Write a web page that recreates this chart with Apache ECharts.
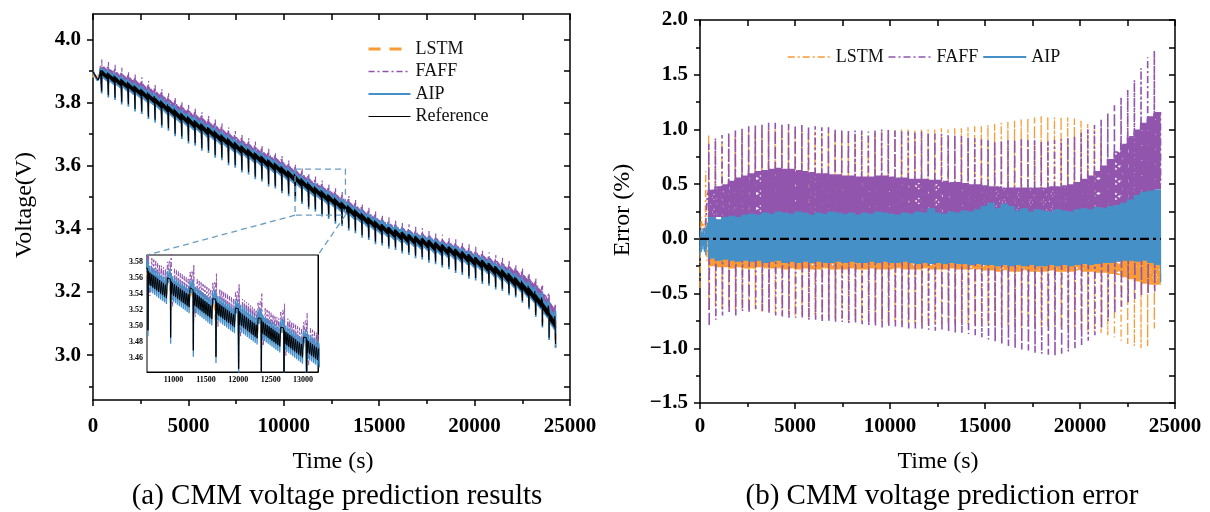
<!DOCTYPE html>
<html><head><meta charset="utf-8">
<script src="https://cdn.jsdelivr.net/npm/echarts@6/dist/echarts.min.js"></script>
<style>html,body{margin:0;padding:0;background:#fff}#c{width:1210px;height:512px}</style>
</head><body><div id="c"></div>
<script>
// ================= DATA =================
// Axis ranges and tick labels
const timeRange = [0, 25000];
const voltRange = [2.858, 4.08];
const errRange = [-1.5, 2.0];
const voltTicks = [3.0, 3.2, 3.4, 3.6, 3.8, 4.0];
const voltMinorTicks = [2.9, 3.1, 3.3, 3.5, 3.7, 3.9];
const voltAllTicks = [2.9, 3.0, 3.1, 3.2, 3.3, 3.4, 3.5, 3.6, 3.7, 3.8, 3.9, 4.0];
const insetTimeRange = [10590, 13230];
const insetVoltRange = [3.443, 3.589];
const insetTimeTicks = [11000, 11500, 12000, 12500, 13000];
const insetVoltTicks = [3.46, 3.48, 3.50, 3.52, 3.54, 3.56, 3.58];

// Start-up segment before the first current pulse (s, V, %)
const initT    = [0, 30, 70, 110, 150, 190, 230, 270, 300, 320, 350, 390, 420];
const initRef  = [3.896, 3.894, 3.890, 3.886, 3.882, 3.878, 3.874, 3.871, 3.870, 3.872, 3.885, 3.902, 3.905];
const initLstm = [-0.45, 0.05, 0.20, 0.12, 0.15, 0.08, 0.10, 0.05, 0.62, 0.10, -0.20, 0.05, 0.00];
const initFaff = [0.00, 0.02, 0.04, 0.05, 0.06, 0.08, 0.10, 0.12, 0.14, 0.20, 0.30, 0.40, 0.42];
const initAip  = [-0.15, 0.08, -0.12, 0.10, -0.10, 0.08, -0.12, 0.10, -0.15, 0.12, -0.10, 0.15, 0.00];

// Start time of each discharge pulse (s)
const pulseT = [450,800,1150,1500,1850,2200,2550,2900,3250,3600,
  3950,4300,4650,5000,5350,5700,6050,6400,6750,7100,
  7450,7800,8150,8500,8850,9200,9550,9900,10250,10600,
  10950,11300,11650,12000,12350,12700,13050,13400,13750,14100,
  14450,14800,15150,15500,15850,16200,16550,16900,17250,17600,
  17950,18300,18650,19000,19350,19700,20050,20400,20750,21100,
  21450,21800,22150,22500,22850,23200,23550,23900];

// Reference voltage: resting level before each pulse, depth of the pulse dip, ripple depth (V)
const refTop = [3.905,3.895,3.885,3.875,3.865,3.854,3.843,3.831,3.818,3.805,
  3.792,3.779,3.767,3.756,3.745,3.734,3.723,3.711,3.699,3.687,
  3.676,3.665,3.654,3.643,3.632,3.621,3.610,3.598,3.585,3.572,
  3.559,3.546,3.534,3.522,3.510,3.498,3.486,3.474,3.462,3.450,
  3.438,3.427,3.417,3.409,3.401,3.394,3.387,3.381,3.375,3.369,
  3.362,3.355,3.348,3.340,3.332,3.323,3.314,3.305,3.295,3.285,
  3.274,3.262,3.249,3.234,3.217,3.197,3.172,3.140];
const refDip = [0.070,0.072,0.070,0.074,0.071,0.075,0.072,0.076,0.073,0.077,
  0.074,0.078,0.075,0.078,0.074,0.079,0.075,0.078,0.074,0.078,
  0.075,0.079,0.074,0.078,0.075,0.079,0.075,0.078,0.074,0.077,
  0.073,0.076,0.072,0.075,0.071,0.074,0.070,0.072,0.068,0.070,
  0.066,0.068,0.062,0.064,0.060,0.064,0.062,0.066,0.064,0.068,
  0.066,0.070,0.068,0.072,0.070,0.073,0.070,0.072,0.068,0.070,
  0.064,0.066,0.060,0.062,0.065,0.070,0.078,0.085];
const refRipple = [0.018,0.018,0.019,0.018,0.019,0.019,0.020,0.019,0.020,0.020,
  0.020,0.021,0.020,0.021,0.020,0.021,0.020,0.021,0.020,0.021,
  0.021,0.020,0.021,0.020,0.021,0.021,0.020,0.021,0.020,0.021,
  0.020,0.021,0.020,0.021,0.020,0.021,0.020,0.021,0.020,0.021,
  0.020,0.021,0.020,0.021,0.021,0.022,0.021,0.022,0.021,0.022,
  0.022,0.022,0.021,0.022,0.022,0.023,0.022,0.023,0.023,0.024,
  0.024,0.025,0.025,0.026,0.026,0.027,0.028,0.030];

// FAFF error (%): spike max, spike min, dense band upper / lower edge, per pulse
const faffHi = [0.87,0.92,0.95,0.97,0.99,1.01,1.03,1.04,1.05,1.06,
  1.06,1.05,1.05,1.04,1.04,1.03,1.03,1.02,1.02,1.01,
  1.00,1.00,0.99,0.99,0.98,0.99,1.00,1.00,0.99,0.99,
  0.98,0.97,0.98,0.97,0.96,0.96,0.95,0.95,0.94,0.93,
  0.92,0.91,0.90,0.89,0.90,0.90,0.91,0.91,0.90,0.90,
  0.89,0.89,0.90,0.91,0.92,0.94,0.97,1.00,1.04,1.09,
  1.15,1.22,1.29,1.36,1.45,1.56,1.66,1.72];
const faffLo = [-0.80,-0.74,-0.70,-0.68,-0.70,-0.66,-0.68,-0.64,-0.66,-0.68,
  -0.70,-0.71,-0.72,-0.72,-0.73,-0.74,-0.74,-0.75,-0.75,-0.76,
  -0.76,-0.77,-0.77,-0.78,-0.79,-0.80,-0.81,-0.80,-0.80,-0.81,
  -0.82,-0.82,-0.83,-0.83,-0.84,-0.84,-0.85,-0.86,-0.86,-0.87,
  -0.88,-0.90,-0.92,-0.94,-0.96,-0.98,-1.00,-1.01,-1.02,-1.04,
  -1.05,-1.06,-1.07,-1.05,-1.03,-1.00,-0.97,-0.93,-0.88,-0.82,
  -0.75,-0.68,-0.62,-0.58,-0.55,-0.52,-0.50,-0.48];
const faffBandHi = [0.45,0.48,0.50,0.53,0.56,0.58,0.60,0.62,0.63,0.64,
  0.65,0.64,0.64,0.63,0.62,0.61,0.60,0.60,0.59,0.59,
  0.58,0.58,0.57,0.57,0.57,0.58,0.58,0.57,0.56,0.56,
  0.55,0.55,0.55,0.54,0.54,0.53,0.52,0.52,0.51,0.50,
  0.50,0.49,0.48,0.48,0.47,0.47,0.47,0.47,0.47,0.47,
  0.47,0.48,0.48,0.49,0.50,0.52,0.55,0.58,0.62,0.67,
  0.73,0.80,0.87,0.94,1.00,1.06,1.12,1.16];
const faffBandLo = [0.18,0.20,0.20,0.21,0.20,0.21,0.20,0.21,0.20,0.21,
  0.20,0.21,0.20,0.21,0.20,0.21,0.20,0.21,0.20,0.21,
  0.20,0.21,0.20,0.21,0.20,0.21,0.20,0.21,0.20,0.21,
  0.20,0.21,0.20,0.21,0.20,0.21,0.20,0.21,0.20,0.21,
  0.20,0.21,0.20,0.21,0.20,0.21,0.20,0.21,0.20,0.21,
  0.20,0.21,0.20,0.21,0.20,0.21,0.20,0.21,0.21,0.22,
  0.22,0.25,0.28,0.30,0.35,0.40,0.42,0.45];

// LSTM error (%)
const lstmHi = [0.95,0.88,0.90,0.92,0.94,0.96,0.98,0.99,1.00,1.01,
  1.01,1.00,1.00,0.99,0.99,0.98,0.98,0.97,0.97,0.96,
  0.96,0.96,0.95,0.95,0.95,0.97,0.98,0.99,0.99,1.00,
  1.00,1.00,1.01,1.00,1.00,1.01,1.00,1.01,1.01,1.02,
  1.03,1.03,1.04,1.05,1.06,1.07,1.08,1.09,1.10,1.11,
  1.12,1.12,1.11,1.12,1.11,1.10,1.08,1.05,1.00,0.90,
  0.72,0.52,0.38,0.30,0.28,0.28,0.27,0.26];
const lstmLo = [-0.65,-0.62,-0.64,-0.62,-0.66,-0.64,-0.66,-0.65,-0.68,-0.66,
  -0.68,-0.70,-0.69,-0.71,-0.70,-0.72,-0.71,-0.73,-0.72,-0.74,
  -0.73,-0.75,-0.74,-0.76,-0.75,-0.77,-0.76,-0.78,-0.77,-0.78,
  -0.77,-0.78,-0.77,-0.78,-0.77,-0.78,-0.77,-0.78,-0.77,-0.78,
  -0.78,-0.79,-0.78,-0.80,-0.79,-0.80,-0.80,-0.81,-0.80,-0.81,
  -0.80,-0.81,-0.80,-0.81,-0.82,-0.82,-0.83,-0.84,-0.85,-0.86,
  -0.88,-0.90,-0.93,-0.96,-0.98,-1.00,-0.98,-0.82];
const lstmBandHi = [0.06,0.05,0.05,0.06,0.05,0.05,0.06,0.05,0.05,0.06,
  0.05,0.05,0.06,0.05,0.05,0.06,0.05,0.05,0.06,0.05,
  0.05,0.06,0.05,0.05,0.06,0.05,0.05,0.06,0.05,0.05,
  0.06,0.05,0.05,0.06,0.05,0.05,0.06,0.05,0.05,0.06,
  0.05,0.05,0.06,0.05,0.05,0.06,0.05,0.05,0.06,0.05,
  0.05,0.06,0.05,0.05,0.06,0.05,0.05,0.06,0.05,0.05,
  0.06,0.08,0.10,0.14,0.20,0.24,0.26,0.27];
const lstmBandLo = [-0.25,-0.26,-0.26,-0.27,-0.26,-0.27,-0.27,-0.26,-0.27,-0.27,
  -0.27,-0.28,-0.27,-0.28,-0.27,-0.28,-0.28,-0.27,-0.28,-0.28,
  -0.28,-0.27,-0.28,-0.28,-0.27,-0.28,-0.28,-0.28,-0.27,-0.28,
  -0.28,-0.28,-0.27,-0.28,-0.28,-0.28,-0.27,-0.28,-0.28,-0.28,
  -0.28,-0.29,-0.29,-0.30,-0.29,-0.30,-0.30,-0.29,-0.30,-0.30,
  -0.30,-0.29,-0.30,-0.30,-0.30,-0.29,-0.30,-0.30,-0.31,-0.31,
  -0.32,-0.33,-0.35,-0.37,-0.39,-0.41,-0.42,-0.42];

// AIP error (%): dense band upper / lower edge
const aipHi = [0.20,0.18,0.20,0.21,0.20,0.22,0.23,0.22,0.24,0.23,
  0.25,0.24,0.23,0.25,0.24,0.22,0.24,0.23,0.25,0.24,
  0.23,0.24,0.22,0.24,0.23,0.25,0.24,0.23,0.22,0.24,
  0.23,0.25,0.24,0.28,0.24,0.23,0.25,0.24,0.26,0.25,
  0.27,0.30,0.33,0.28,0.32,0.30,0.26,0.28,0.25,0.27,
  0.26,0.25,0.27,0.26,0.25,0.27,0.28,0.27,0.29,0.28,
  0.30,0.31,0.33,0.36,0.40,0.43,0.44,0.45];
const aipLo = [-0.18,-0.20,-0.19,-0.20,-0.21,-0.20,-0.21,-0.20,-0.22,-0.21,
  -0.20,-0.22,-0.21,-0.22,-0.21,-0.22,-0.21,-0.22,-0.22,-0.21,
  -0.22,-0.21,-0.22,-0.22,-0.21,-0.22,-0.21,-0.22,-0.22,-0.21,
  -0.22,-0.23,-0.22,-0.23,-0.22,-0.23,-0.22,-0.23,-0.23,-0.24,
  -0.23,-0.24,-0.24,-0.25,-0.24,-0.25,-0.24,-0.25,-0.24,-0.25,
  -0.25,-0.24,-0.25,-0.24,-0.25,-0.24,-0.23,-0.24,-0.23,-0.22,
  -0.22,-0.21,-0.20,-0.20,-0.21,-0.20,-0.22,-0.24];

// End of discharge
const tailT = [24245];
const tailRef = [3.035];
const tailLstm = [-0.30];
const tailFaff = [0.50];
const tailAip = [-0.40];

// Zero-error reference line
const zeroT = [0, 24250];
const zeroE = [0, 0];

// ================= BUILD =================
// time offsets inside one pulse (s) and the ripple profile of the reference within a pulse
// (in units of refRipple; odd indices are the small load teeth)
const OFFS = [0,5,12,20,35,50,65,80,95,110,125,140,155,170,185,200,215,230,245,260,275,290,305,320,335];
const SHAPE = [0,0,0.15,0.95,0.24,1.03,0.33,1.12,0.42,1.21,0.51,1.30,0.60,1.39,0.69,1.48,0.78,1.57,0.87,1.66,0.96,1.75,0.55,0.50,0.45];

const T = [], R = [], EL = [], EF = [], EA = [];
function push(t, r, l, f, a) { T.push(t); R.push(r); EL.push(l); EF.push(f); EA.push(a); }
initT.forEach((t, i) => push(t, initRef[i], initLstm[i], initFaff[i], initAip[i]));
pulseT.forEach((t0, k) => {
  OFFS.forEach((o, j) => {
    const r = j === 1 ? refTop[k] - refDip[k] : refTop[k] - SHAPE[j] * refRipple[k];
    const tooth = j % 2 === 1;
    let l = tooth ? lstmBandHi[k] : lstmBandLo[k];
    let f = tooth ? faffBandLo[k] : faffBandHi[k];
    let a = tooth ? aipLo[k] : aipHi[k];
    if (j === 1) { l = lstmHi[k]; a = aipLo[k]; }
    if (j === 2) { l = lstmLo[k]; f = faffHi[k]; a = aipHi[k]; }
    if (j === 4) { f = faffLo[k]; }
    push(t0 + o, r, l, f, a);
  });
});
tailT.forEach((t, i) => push(t, tailRef[i], tailLstm[i], tailFaff[i], tailAip[i]));

// predicted voltage = reference * (1 + relative error)
const volt = (E) => T.map((t, i) => [t, +(R[i] * (1 + E[i] / 100)).toFixed(5)]);
const err = (E) => T.map((t, i) => [t, E[i]]);
const refData = T.map((t, i) => [t, +R[i].toFixed(5)]);
const lstmV = volt(EL), faffV = volt(EF), aipV = volt(EA);

const C = { lstm: '#F99B34', faff: '#9155AE', aip: '#4690C8', ref: '#000000' };
const SERIF = '"Liberation Serif","Times New Roman",serif';
const tickLab = { fontFamily: SERIF, fontWeight: 'bold', fontSize: 21, color: '#000' };
const axLine = { show: true, onZero: false, lineStyle: { color: '#000', width: 1.5 } };
const thinLine = { show: true, onZero: false, lineStyle: { color: '#000', width: 1 } };

const chart = echarts.init(document.getElementById('c'));

function line(name, data, xi, yi, ls, z) {
  return { name, type: 'line', data, xAxisIndex: xi, yAxisIndex: yi, symbol: 'none', showSymbol: false,
    itemStyle: { color: ls.color }, lineStyle: ls, silent: true, animation: false, z: z || 2, clip: true };
}
const minorT = { show: true, splitNumber: 2, length: 4, lineStyle: { color: '#000', width: 1.5 } };

const option = {
  backgroundColor: '#fff',
  animation: false,
  textStyle: { fontFamily: SERIF },
  grid: [
    { left: 93, top: 14, width: 477, height: 386 },
    { left: 700, top: 20, width: 475, height: 383 },
    { left: 147, top: 255, width: 171, height: 117, show: true, backgroundColor: '#fff', borderColor: '#000', borderWidth: 1, z: 5 }
  ],
  xAxis: [
    { gridIndex: 0, type: 'value', min: timeRange[0], max: timeRange[1], interval: 5000, position: 'bottom',
      axisLine: axLine, axisTick: { length: 6, lineStyle: { width: 1.5 } }, minorTick: minorT,
      axisLabel: Object.assign({ margin: 16, formatter: v => String(v) }, tickLab), splitLine: { show: false } },
    { gridIndex: 0, type: 'value', min: timeRange[0], max: timeRange[1], interval: 2500, position: 'top',
      axisLine: axLine, axisTick: { inside: true, length: 6, lineStyle: { width: 1.5 } }, axisLabel: { show: false }, splitLine: { show: false } },
    { gridIndex: 1, type: 'value', min: timeRange[0], max: timeRange[1], interval: 5000, position: 'bottom',
      axisLine: axLine, axisTick: { length: 6, lineStyle: { width: 1.5 } }, minorTick: minorT,
      axisLabel: Object.assign({ margin: 13, formatter: v => String(v) }, tickLab), splitLine: { show: false } },
    { gridIndex: 1, type: 'value', min: timeRange[0], max: timeRange[1], interval: 2500, position: 'top',
      axisLine: axLine, axisTick: { inside: true, length: 6, lineStyle: { width: 1.5 } }, axisLabel: { show: false }, splitLine: { show: false } },
    { gridIndex: 2, type: 'value', min: insetTimeRange[0], max: insetTimeRange[1], position: 'bottom',
      axisLine: thinLine,
      axisTick: { inside: true, length: 2.5, customValues: insetTimeTicks, lineStyle: { width: 1 } },
      axisLabel: { customValues: insetTimeTicks, formatter: v => String(v), margin: 4, fontFamily: SERIF, fontWeight: 'bold', fontSize: 8, color: '#000' },
      splitLine: { show: false } },
    { gridIndex: 2, type: 'value', min: insetTimeRange[0], max: insetTimeRange[1], position: 'top',
      axisLine: thinLine,
      axisTick: { inside: true, length: 2.5, customValues: insetTimeTicks }, axisLabel: { show: false }, splitLine: { show: false } }
  ],
  yAxis: [
    { gridIndex: 0, type: 'value', min: voltRange[0], max: voltRange[1], position: 'left',
      axisLine: axLine, axisTick: { length: 6, customValues: voltTicks, lineStyle: { width: 1.5 } },
      axisLabel: Object.assign({ margin: 12, customValues: voltTicks, formatter: v => v.toFixed(1) }, tickLab), splitLine: { show: false } },
    { gridIndex: 0, type: 'value', min: voltRange[0], max: voltRange[1], position: 'left',
      axisLine: { show: false, onZero: false }, axisTick: { length: 4, customValues: voltMinorTicks, lineStyle: { width: 1.5, color: '#000' } },
      axisLabel: { show: false }, splitLine: { show: false } },
    { gridIndex: 0, type: 'value', min: voltRange[0], max: voltRange[1], position: 'right',
      axisLine: axLine, axisTick: { inside: true, length: 6, customValues: voltAllTicks, lineStyle: { width: 1.5 } },
      axisLabel: { show: false }, splitLine: { show: false } },
    { gridIndex: 1, type: 'value', min: errRange[0], max: errRange[1], interval: 0.5, position: 'left',
      axisLine: axLine, axisTick: { length: 6, lineStyle: { width: 1.5 } }, minorTick: minorT,
      axisLabel: Object.assign({ margin: 12, formatter: v => (v < 0 ? '\u2212' : '') + Math.abs(v).toFixed(1) }, tickLab), splitLine: { show: false } },
    { gridIndex: 1, type: 'value', min: errRange[0], max: errRange[1], interval: 0.25, position: 'right',
      axisLine: axLine, axisTick: { inside: true, length: 6, lineStyle: { width: 1.5 } }, axisLabel: { show: false }, splitLine: { show: false } },
    { gridIndex: 2, type: 'value', min: insetVoltRange[0], max: insetVoltRange[1], position: 'left',
      axisLine: thinLine,
      axisTick: { inside: true, length: 2.5, customValues: insetVoltTicks },
      axisLabel: { customValues: insetVoltTicks, formatter: v => v.toFixed(2), margin: 4, fontFamily: SERIF, fontWeight: 'bold', fontSize: 8, color: '#000' },
      splitLine: { show: false } },
    { gridIndex: 2, type: 'value', min: insetVoltRange[0], max: insetVoltRange[1], position: 'right',
      axisLine: thinLine,
      axisTick: { inside: true, length: 2.5, customValues: insetVoltTicks }, axisLabel: { show: false }, splitLine: { show: false } }
  ],
  legend: [
    { orient: 'vertical', left: 362, top: 35, itemWidth: 42, itemHeight: 12, itemGap: 4.5,
      itemStyle: { opacity: 0 },
      textStyle: { fontFamily: SERIF, fontSize: 18, color: '#111', lineHeight: 18 },
      data: [
        { name: 'LSTM', lineStyle: { type: [12, 9], width: 3 } },
        { name: 'FAFF', lineStyle: { type: [6, 3, 2, 3], width: 1.5 } },
        { name: 'AIP', lineStyle: { width: 2 } },
        { name: 'Reference', lineStyle: { width: 1 } }
      ], selectedMode: false },
    { orient: 'horizontal', left: 782, top: 43, itemWidth: 43, itemHeight: 12, itemGap: 4,
      itemStyle: { opacity: 0 },
      textStyle: { fontFamily: SERIF, fontSize: 18, color: '#111', lineHeight: 18 },
      formatter: n => n.trim(),
      data: [
        { name: 'LSTM ', lineStyle: { type: [7, 3, 2, 3], width: 1.5 } },
        { name: 'FAFF ', lineStyle: { type: [7, 3, 2, 3], width: 1.5 } },
        { name: 'AIP ', lineStyle: { width: 2 } }
      ], selectedMode: false }
  ],
  series: [
    line('LSTM', lstmV, 0, 0, { color: C.lstm, width: 2, type: [7, 5] }),
    line('FAFF', faffV, 0, 0, { color: C.faff, width: 1.2, type: [6, 3, 2, 3] }),
    line('AIP', aipV, 0, 0, { color: C.aip, width: 1.8 }),
    line('Reference', refData, 0, 0, { color: C.ref, width: 1.1 }),

    line('i_LSTM', lstmV, 4, 5, { color: C.lstm, width: 1.6, type: [6, 4] }, 6),
    line('i_FAFF', faffV, 4, 5, { color: C.faff, width: 1, type: [5, 2, 2, 2] }, 6),
    line('i_AIP', aipV, 4, 5, { color: C.aip, width: 1.3 }, 6),
    line('i_Ref', refData, 4, 5, { color: C.ref, width: 1 }, 6),

    line('LSTM ', err(EL), 2, 3, { color: C.lstm, width: 1.3, type: [7, 3, 2, 3] }),
    line('FAFF ', err(EF), 2, 3, { color: C.faff, width: 1.6, type: [7, 3, 2, 3] }),
    line('AIP ', err(EA), 2, 3, { color: C.aip, width: 1.1 }),
    line('zero', zeroT.map((t, i) => [t, zeroE[i]]), 2, 3, { color: '#000', width: 2.2, type: [9, 4, 3, 4] }, 4)
  ]
};
chart.setOption(option);

// titles, captions and the zoom-box decorations
const toMain = (p) => chart.convertToPixel({ xAxisIndex: 0, yAxisIndex: 0 }, p);
const toInset = (p) => chart.convertToPixel({ xAxisIndex: 4, yAxisIndex: 5 }, p);
const boxTL = toMain([insetTimeRange[0], insetVoltRange[1]]);
const boxBR = toMain([insetTimeRange[1], insetVoltRange[0]]);
const insTL = toInset([insetTimeRange[0], insetVoltRange[1]]);
const insTR = toInset([insetTimeRange[1], insetVoltRange[1]]);
const dash = { stroke: '#6A9CC0', lineWidth: 1.3, lineDash: [6, 4], fill: null };
const txt = (text, x, y, size, rot) => ({ type: 'text', x, y, rotation: rot || 0, z: 10,
  style: { text, font: size + 'px ' + SERIF, fill: '#000', textAlign: 'center', textVerticalAlign: 'middle' } });
chart.setOption({
  graphic: [
    { type: 'rect', shape: { x: boxTL[0], y: boxTL[1], width: boxBR[0] - boxTL[0], height: boxBR[1] - boxTL[1] }, style: dash, z: 10 },
    { type: 'line', shape: { x1: boxTL[0], y1: boxBR[1], x2: insTL[0], y2: insTL[1] }, style: dash, z: 10 },
    { type: 'line', shape: { x1: boxBR[0], y1: boxBR[1], x2: insTR[0], y2: insTR[1] }, style: dash, z: 10 },
    txt('Voltage(V)', 25, 205, 24, Math.PI / 2),
    txt('Error (%)', 623, 210, 24, Math.PI / 2),
    txt('Time (s)', 333, 462, 24),
    txt('Time (s)', 938, 462, 24),
    txt('(a) CMM voltage prediction results', 337, 496, 29),
    txt('(b) CMM voltage prediction error', 942, 496, 29)
  ]
});
</script>
</body></html>
